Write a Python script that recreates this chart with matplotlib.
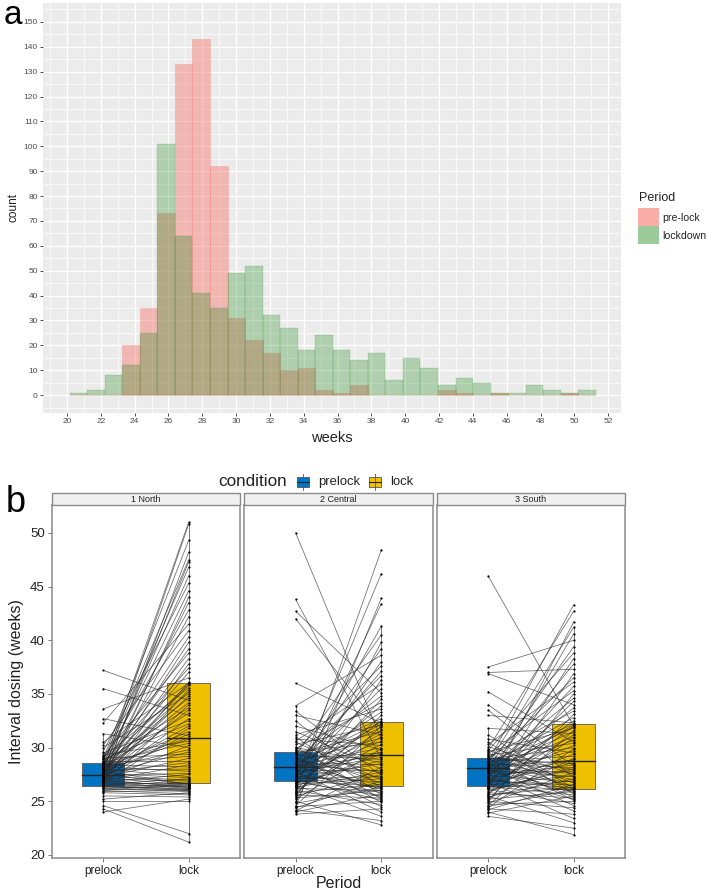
import matplotlib
matplotlib.use('Agg')
import matplotlib.pyplot as plt
from matplotlib.patches import Rectangle
from matplotlib.ticker import MultipleLocator
import numpy as np

plt.rcParams['font.family'] = ['Liberation Sans', 'DejaVu Sans']

# ---------------- Panel a: histogram data ----------------
bin_start = 20.16
bin_width = 1.037
prelock_counts = [0, 0, 0, 20, 35, 73, 133, 143, 92, 31, 22, 17, 10, 11, 2,
                  1, 4, 0, 0, 0, 0, 2, 1, 0, 1, 0, 0, 0, 1, 0]
lockdown_counts = [1, 2, 8, 12, 25, 101, 64, 41, 35, 49, 52, 32, 27, 18, 24,
                   18, 14, 17, 6, 15, 11, 4, 7, 5, 1, 1, 4, 2, 1, 2]
period_labels = ['pre-lock', 'lockdown']
week_ticks = list(range(20, 53, 2))
count_ticks = list(range(0, 151, 10))

# ---------------- Panel b: paired data ----------------
regions = ['1 North', '2 Central', '3 South']
conditions = ['prelock', 'lock']

north_lock = [21.2, 22.0, 25.0, 25.2, 25.4, 25.6, 25.7, 25.8, 25.9, 26.0, 26.0, 26.1, 26.1, 26.2, 26.2, 26.3, 26.3, 26.4, 26.4, 26.5, 26.5, 26.6, 26.6, 26.6, 26.7,
              26.8, 26.9, 27.0, 27.1, 27.2, 27.3, 27.5, 27.6, 27.8, 28.0, 28.2, 28.4, 28.6, 28.8, 29.0, 29.2, 29.4, 29.6, 29.8, 30.0, 30.2, 30.4, 30.6, 30.8, 30.9,
              31.1, 31.3, 31.5, 31.8, 32.0, 32.2, 32.5, 32.7, 33.0, 33.2, 33.5, 33.7, 34.0, 34.2, 34.4, 34.6, 34.8, 35.0, 35.2, 35.4, 35.6, 35.8, 35.9, 36.0, 36.1,
              36.5, 37.0, 37.4, 37.8, 38.3, 38.8, 39.2, 39.8, 40.3, 40.9, 41.5, 42.2, 42.8, 43.5, 44.0, 44.6, 45.3, 46.0, 46.8, 47.3, 47.5, 48.2, 49.3, 50.8, 51.0]
north_pre = [24.3, 24.6, 25.0, 24.0, 25.5, 25.8, 26.0, 25.2, 26.2, 26.4, 25.9, 26.5, 26.1, 26.8, 26.3, 26.6, 27.0, 26.2, 26.9, 27.2, 26.4, 27.5, 26.7, 27.8, 26.0,
             26.5, 27.1, 27.3, 26.6, 27.6, 28.0, 26.8, 27.4, 28.2, 27.9, 28.4, 26.9, 27.7, 28.8, 27.2, 28.5, 29.0, 27.5, 28.1, 31.3, 27.0, 28.6, 29.3, 27.8, 28.3,
             32.7, 27.3, 28.0, 26.7, 27.6, 28.9, 29.5, 27.1, 35.5, 28.2, 27.4, 28.7, 26.6, 27.9, 37.2, 28.4, 27.5, 30.0, 28.1, 26.9, 29.1, 27.7, 28.5, 30.5, 27.0,
             33.6, 27.8, 28.6, 26.8, 27.4, 29.2, 28.0, 27.6, 28.3, 30.2, 32.3, 27.2, 28.8, 27.5, 26.9, 28.2, 29.6, 27.9, 28.4, 27.3, 28.7, 27.1, 28.9, 27.6, 28.1]

central_lock = [22.8, 23.2, 23.6, 24.0, 24.3, 24.5, 24.7, 24.9, 25.0, 25.1, 25.2, 25.3, 25.4, 25.5, 25.6, 25.7, 25.8, 25.9, 26.0, 26.0, 26.1, 26.2, 26.2, 26.3, 26.4,
                26.5, 26.6, 26.7, 26.8, 26.9, 27.0, 27.1, 27.2, 27.3, 27.4, 27.5, 27.6, 27.7, 27.8, 27.9, 28.0, 28.2, 28.4, 28.5, 28.6, 28.8, 28.9, 29.0, 29.1, 29.3,
                29.4, 29.5, 29.6, 29.8, 29.9, 30.0, 30.2, 30.3, 30.5, 30.6, 30.8, 30.9, 31.0, 31.2, 31.3, 31.5, 31.6, 31.7, 31.9, 32.0, 32.1, 32.2, 32.3, 32.4, 32.5,
                32.7, 33.0, 33.3, 33.6, 33.9, 34.2, 34.5, 34.8, 35.1, 35.5, 35.9, 36.3, 36.7, 37.1, 37.6, 38.0, 38.6, 39.2, 39.8, 40.5, 41.3, 43.4, 43.9, 46.2, 48.4]
central_pre = [25.0, 24.2, 26.5, 27.8, 23.8, 28.5, 26.0, 29.2, 24.5, 27.0, 30.1, 25.6, 28.0, 26.8, 31.0, 24.0, 27.4, 29.0, 25.3, 26.2, 28.8, 27.6, 32.5, 24.8, 26.9,
               28.2, 25.8, 29.5, 27.3, 24.4, 30.5, 26.6, 28.9, 27.1, 33.4, 25.5, 29.8, 26.3, 28.4, 27.9, 31.5, 24.1, 28.6, 27.2, 30.0, 26.7, 29.3, 43.8, 27.7, 28.1,
               26.4, 29.0, 27.5, 32.0, 25.2, 28.3, 30.8, 26.1, 29.6, 27.4, 50.0, 28.7, 25.9, 33.0, 27.0, 29.4, 26.7, 42.0, 28.0, 24.6, 30.3, 27.8, 36.0, 28.5, 26.5,
               29.1, 25.7, 28.2, 31.2, 27.2, 29.9, 26.0, 28.8, 42.7, 27.5, 30.6, 25.4, 28.6, 27.9, 29.7, 26.8, 33.9, 28.0, 24.9, 29.3, 27.3, 26.3, 24.5, 27.0, 25.8]

south_lock = [21.9, 22.5, 23.0, 23.4, 23.8, 24.1, 24.4, 24.6, 24.8, 25.0, 25.1, 25.2, 25.3, 25.4, 25.5, 25.6, 25.7, 25.8, 25.9, 26.0, 26.0, 26.1, 26.1, 26.2, 26.2,
              26.3, 26.4, 26.5, 26.6, 26.7, 26.8, 26.9, 27.0, 27.1, 27.2, 27.3, 27.4, 27.5, 27.6, 27.7, 27.8, 27.9, 28.0, 28.1, 28.2, 28.3, 28.4, 28.5, 28.6, 28.8,
              28.9, 29.0, 29.2, 29.4, 29.5, 29.7, 29.9, 30.0, 30.2, 30.4, 30.5, 30.7, 30.9, 31.0, 31.2, 31.3, 31.5, 31.6, 31.8, 31.9, 32.0, 32.0, 32.1, 32.2, 32.3,
              32.5, 32.8, 33.1, 33.4, 33.7, 34.0, 34.3, 34.6, 35.0, 35.3, 35.7, 36.1, 36.5, 36.9, 37.3, 37.8, 38.3, 38.8, 39.4, 40.0, 40.6, 41.2, 41.7, 42.7, 43.3]
south_pre = [24.0, 23.6, 25.5, 26.8, 24.3, 27.5, 25.0, 28.2, 26.1, 24.7, 29.0, 27.2, 25.8, 28.6, 23.9, 26.4, 30.5, 27.8, 25.2, 28.0, 26.6, 29.5, 24.5, 27.0, 31.2,
             25.6, 28.4, 26.9, 24.2, 29.8, 27.4, 26.2, 28.8, 25.4, 33.5, 27.9, 26.5, 30.1, 28.1, 24.8, 27.6, 29.2, 26.0, 28.5, 25.9, 34.0, 27.3, 29.0, 26.7, 28.3,
             27.1, 25.3, 28.7, 26.3, 30.8, 27.7, 24.4, 28.9, 26.8, 29.3, 35.2, 27.5, 25.7, 28.0, 26.4, 31.8, 27.9, 24.6, 29.6, 28.2, 46.0, 26.1, 27.4, 28.6, 33.0,
             26.9, 28.4, 25.1, 29.1, 27.6, 36.9, 26.6, 28.0, 24.9, 29.4, 27.2, 30.3, 28.8, 25.5, 37.0, 27.8, 26.2, 29.7, 28.1, 37.5, 27.0, 28.5, 26.3, 29.9, 28.7]

pre_values = [north_pre, central_pre, south_pre]
lock_values = [north_lock, central_lock, south_lock]

# box statistics (per region)
pre_q1 = [26.47, 26.90, 26.47]
pre_med = [27.47, 28.15, 28.06]
pre_q3 = [28.56, 29.59, 29.03]
pre_wlo = [24.0, 23.8, 23.6]
pre_whi = [31.3, 33.9, 31.8]
lock_q1 = [26.72, 26.38, 26.19]
lock_med = [30.90, 29.31, 28.78]
lock_q3 = [36.06, 32.39, 32.17]
lock_wlo = [21.2, 22.8, 21.9]
lock_whi = [51.0, 41.3, 41.2]
y_ticks_b = [20, 25, 30, 35, 40, 45, 50]

# ---------------- Styles ----------------
W, H = 708, 894
fig = plt.figure(figsize=(W / 100, H / 100), dpi=100)
fig.patch.set_facecolor('white')

def fx(px):
    return px / W

def fy(py):
    return 1 - py / H

pink = '#F8766D'
green = '#228B22'
col_pre = '#0073C2'
col_lock = '#EFC000'

# ---------------- Panel a ----------------
axa = fig.add_axes([fx(43), fy(413), fx(621 - 43), (413 - 3) / H])
axa.set_facecolor('#EBEBEB')
lefts = bin_start + bin_width * np.arange(len(prelock_counts))
axa.bar(lefts, prelock_counts, width=bin_width, align='edge',
        color=pink, alpha=0.45, edgecolor=pink, linewidth=0.4, zorder=2)
axa.bar(lefts, lockdown_counts, width=bin_width, align='edge',
        color=green, alpha=0.3, edgecolor=(0.13, 0.55, 0.13, 0.6), linewidth=0.35, zorder=3)
axa.set_xlim(18.58, 52.76)
axa.set_ylim(-7.2, 157.6)
axa.set_xticks(week_ticks)
axa.set_yticks(count_ticks)
axa.xaxis.set_minor_locator(MultipleLocator(1))
axa.yaxis.set_minor_locator(MultipleLocator(5))
axa.grid(which='major', color='white', linewidth=1.0, zorder=0)
axa.grid(which='minor', color='white', linewidth=0.5, zorder=0)
axa.set_axisbelow(True)
for s in axa.spines.values():
    s.set_visible(False)
axa.tick_params(which='major', length=2.2, width=0.6, color='#333333',
                labelsize=6, labelcolor='#4D4D4D', pad=1.5)
axa.tick_params(which='minor', length=0)
axa.set_xlabel('weeks', fontsize=10.5, color='#222222', labelpad=4)
axa.set_ylabel('count', fontsize=8.5, color='#222222', labelpad=3)

# legend for panel a (pixel positioned)
ov = fig.add_axes([0, 0, 1, 1], zorder=10)
ov.set_xlim(0, W)
ov.set_ylim(H, 0)
ov.axis('off')
ov.text(639, 198, 'Period', fontsize=9, ha='left', va='center', color='#222222')
ov.add_patch(Rectangle((638, 208), 21, 18, facecolor=pink, alpha=0.6, edgecolor='none'))
ov.add_patch(Rectangle((638, 226), 21, 18, facecolor=green, alpha=0.45, edgecolor='none'))
ov.text(662, 218, period_labels[0], fontsize=7.6, ha='left', va='center', color='#222222')
ov.text(662, 236, period_labels[1], fontsize=7.6, ha='left', va='center', color='#222222')

ov.text(4, 16, 'a', fontsize=24, ha='left', va='center', color='black')
ov.text(6, 502, 'b', fontsize=26, ha='left', va='center', color='black')

# ---------------- Panel b ----------------
panel_x = [51.7, 244.3, 436.7]
panel_w = 188.3
top_px, bot_px = 505, 858.3
for i in range(3):
    ax = fig.add_axes([fx(panel_x[i]), fy(bot_px), fx(panel_w), (bot_px - top_px) / H])
    ax.set_xlim(0.4, 2.6)
    ax.set_ylim(19.69, 52.6)
    stats = [(1, pre_q1[i], pre_med[i], pre_q3[i], pre_wlo[i], pre_whi[i], col_pre),
             (2, lock_q1[i], lock_med[i], lock_q3[i], lock_wlo[i], lock_whi[i], col_lock)]
    for xc, q1, md, q3, wlo, whi, c in stats:
        ax.add_patch(Rectangle((xc - 0.25, q1), 0.5, q3 - q1, facecolor=c,
                               edgecolor='#5a5a5a', linewidth=0.6, zorder=1))
        ax.plot([xc - 0.25, xc + 0.25], [md, md], color='#222222', lw=1.0, zorder=1.5)
        ax.plot([xc, xc], [wlo, q1], color='#777777', lw=0.7, zorder=1.5)
        ax.plot([xc, xc], [q3, whi], color='#777777', lw=0.7, zorder=1.5)
    pv = pre_values[i]
    lv = lock_values[i]
    for a, b in zip(pv, lv):
        ax.plot([1, 2], [a, b], color='#2a2a2a', lw=0.55, alpha=0.7, zorder=2)
    ax.scatter([1] * len(pv), pv, s=2.5, color='black', zorder=3, linewidths=0)
    ax.scatter([2] * len(lv), lv, s=2.5, color='black', zorder=3, linewidths=0)
    ax.set_xticks([1, 2])
    ax.set_xticklabels(conditions, fontsize=8.5, color='#222222')
    ax.set_yticks(y_ticks_b)
    if i == 0:
        ax.set_yticklabels([str(v) for v in y_ticks_b], fontsize=9.5, color='#222222')
        ax.set_ylabel('Interval dosing (weeks)', fontsize=11.5, color='#222222', labelpad=4)
        ax.tick_params(axis='y', length=3, width=0.6, color='#666666', pad=2)
    else:
        ax.tick_params(axis='y', length=0, labelleft=False)
    ax.tick_params(axis='x', length=3, width=0.6, color='#666666', pad=2)
    for s in ax.spines.values():
        s.set_color('#8a8a8a')
        s.set_linewidth(1.1)
    # strip
    ov.add_patch(Rectangle((panel_x[i], 492.7), panel_w, 12.3, facecolor='#F0F0F0',
                           edgecolor='#8a8a8a', linewidth=1.0))
    ov.text(panel_x[i] + panel_w / 2, 499, regions[i], fontsize=6.5, ha='center',
            va='center', color='#222222')

ov.text(339, 884, 'Period', fontsize=11.5, ha='center', va='center', color='#222222')

# condition legend
ov.text(218, 482, 'condition', fontsize=12.3, ha='left', va='center', color='#222222')
for kx, c, lab in [(297, col_pre, conditions[0]), (369, col_lock, conditions[1])]:
    ov.plot([kx + 6, kx + 6], [474, 490], color='#555555', lw=0.6)
    ov.add_patch(Rectangle((kx, 477), 12, 10, facecolor=c, edgecolor='#555555', linewidth=0.6))
    ov.plot([kx, kx + 12], [482, 482], color='#222222', lw=0.8)
    ov.text(kx + 21, 482, lab, fontsize=9.4, ha='left', va='center', color='#222222')

fig.savefig('out.png', dpi=100, facecolor='white')
